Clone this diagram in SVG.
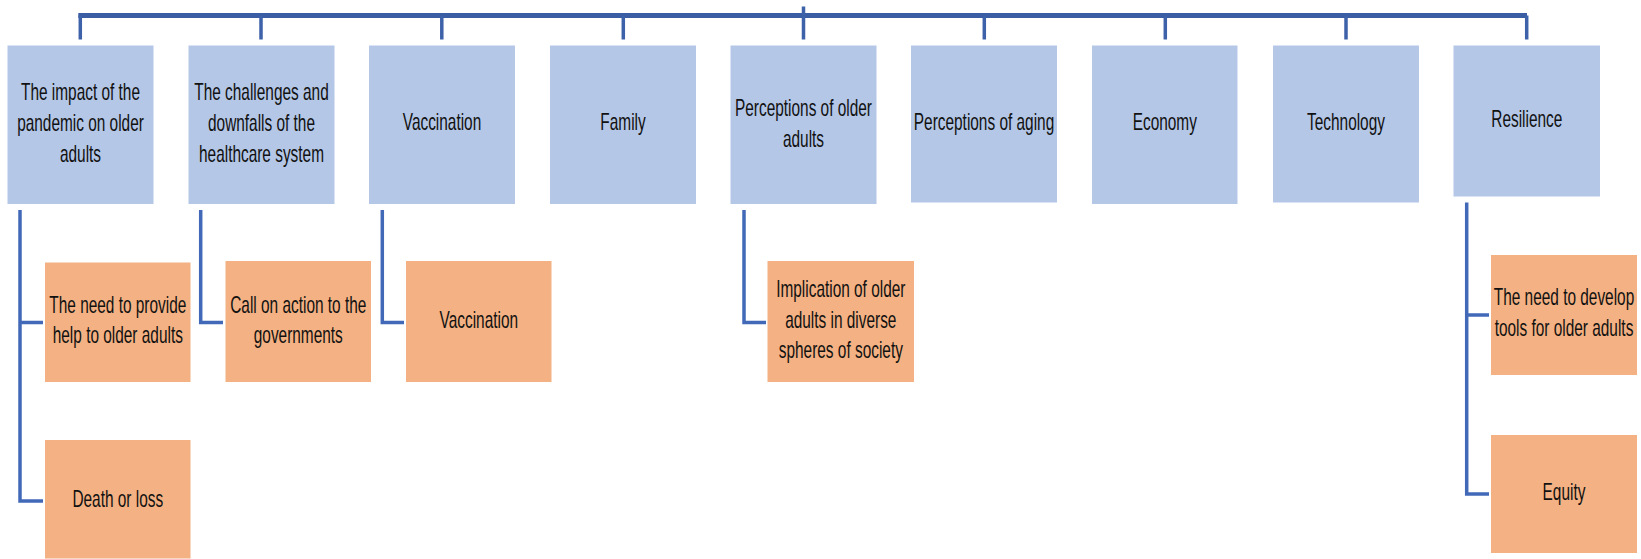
<svg xmlns="http://www.w3.org/2000/svg" width="1641" height="559" viewBox="0 0 1641 559">
<style>
.bg{fill:#ffffff}
.top{fill:#B4C7E7}
.sub{fill:#F4B183}
.t{font-family:"Liberation Sans",Arial,sans-serif;font-size:23px;fill:#111111;text-anchor:middle}
.bar{fill:none;stroke:#3A5DA3;stroke-width:5}
.drop{fill:none;stroke:#3D62AA;stroke-width:3.5}
.con{fill:none;stroke:#4169B8;stroke-width:3.5}
</style>
<rect class="bg" x="0" y="0" width="1641" height="559"/>
<g id="connectors">
<path class="bar" d="M78.3 15.5 H1527"/>
<path class="drop" d="M803.5 6.5 V15.5"/>
<path class="drop" d="M80.3 15.5 V39.5 M261 15.5 V39.5 M441.8 15.5 V39.5 M623.3 15.5 V39.5 M803.5 15.5 V39.5 M984.3 15.5 V39.5 M1165.3 15.5 V39.5 M1346 15.5 V39.5 M1526.7 15.5 V39.5"/>
<path class="con" d="M20 210 V501 H43 M20 322.5 H43"/>
<path class="con" d="M200.7 210 V322.5 H223"/>
<path class="con" d="M382.3 210 V322.5 H404"/>
<path class="con" d="M744 210 V322.5 H766"/>
<path class="con" d="M1466.7 202.5 V494 H1489 M1466.7 315 H1489"/>
</g>
<g id="n1"><rect class="top" x="7.5" y="45.5" width="146" height="158.5"/>
<text class="t" transform="translate(80.5 0) scale(0.67 1)"><tspan x="0" y="100">The impact of the</tspan><tspan x="0" y="131">pandemic on older</tspan><tspan x="0" y="162">adults</tspan></text></g>
<g id="n2"><rect class="top" x="188.5" y="45.5" width="146" height="158.5"/>
<text class="t" transform="translate(261.5 0) scale(0.67 1)"><tspan x="0" y="100">The challenges and</tspan><tspan x="0" y="131">downfalls of the</tspan><tspan x="0" y="162">healthcare system</tspan></text></g>
<g id="n3"><rect class="top" x="369" y="45.5" width="146" height="158.5"/>
<text class="t" transform="translate(442 0) scale(0.67 1)"><tspan x="0" y="130.5">Vaccination</tspan></text></g>
<g id="n4"><rect class="top" x="550" y="45.5" width="146" height="158.5"/>
<text class="t" transform="translate(623 0) scale(0.67 1)"><tspan x="0" y="130">Family</tspan></text></g>
<g id="n5"><rect class="top" x="730.5" y="45.5" width="146" height="158.5"/>
<text class="t" transform="translate(803.5 0) scale(0.67 1)"><tspan x="0" y="116.5">Perceptions of older</tspan><tspan x="0" y="147">adults</tspan></text></g>
<g id="n6"><rect class="top" x="911" y="45.5" width="146" height="157"/>
<text class="t" transform="translate(984 0) scale(0.67 1)"><tspan x="0" y="130">Perceptions of aging</tspan></text></g>
<g id="n7"><rect class="top" x="1092" y="45.5" width="145.5" height="158.5"/>
<text class="t" transform="translate(1164.8 0) scale(0.67 1)"><tspan x="0" y="130">Economy</tspan></text></g>
<g id="n8"><rect class="top" x="1273" y="45.5" width="146" height="157"/>
<text class="t" transform="translate(1346 0) scale(0.67 1)"><tspan x="0" y="130">Technology</tspan></text></g>
<g id="n9"><rect class="top" x="1453.5" y="45.5" width="146.5" height="151"/>
<text class="t" transform="translate(1526.8 0) scale(0.67 1)"><tspan x="0" y="127">Resilience</tspan></text></g>
<g id="s1"><rect class="sub" x="45" y="262.5" width="145.5" height="119.5"/>
<text class="t" transform="translate(117.8 0) scale(0.67 1)"><tspan x="0" y="313">The need to provide</tspan><tspan x="0" y="343">help to older adults</tspan></text></g>
<g id="s2"><rect class="sub" x="45" y="440" width="145.5" height="118.5"/>
<text class="t" transform="translate(117.8 0) scale(0.67 1)"><tspan x="0" y="507">Death or loss</tspan></text></g>
<g id="s3"><rect class="sub" x="225.5" y="261" width="145.5" height="121"/>
<text class="t" transform="translate(298.3 0) scale(0.67 1)"><tspan x="0" y="313">Call on action to the</tspan><tspan x="0" y="343">governments</tspan></text></g>
<g id="s4"><rect class="sub" x="406" y="261" width="145.5" height="121"/>
<text class="t" transform="translate(478.8 0) scale(0.67 1)"><tspan x="0" y="328">Vaccination</tspan></text></g>
<g id="s5"><rect class="sub" x="767.5" y="261" width="146.5" height="121"/>
<text class="t" transform="translate(840.8 0) scale(0.67 1)"><tspan x="0" y="297">Implication of older</tspan><tspan x="0" y="328">adults in diverse</tspan><tspan x="0" y="358">spheres of society</tspan></text></g>
<g id="s6"><rect class="sub" x="1491" y="255" width="146" height="120"/>
<text class="t" transform="translate(1564 0) scale(0.67 1)"><tspan x="0" y="305">The need to develop</tspan><tspan x="0" y="336">tools for older adults</tspan></text></g>
<g id="s7"><rect class="sub" x="1491" y="435" width="146" height="118"/>
<text class="t" transform="translate(1564 0) scale(0.67 1)"><tspan x="0" y="500">Equity</tspan></text></g>
</svg>
